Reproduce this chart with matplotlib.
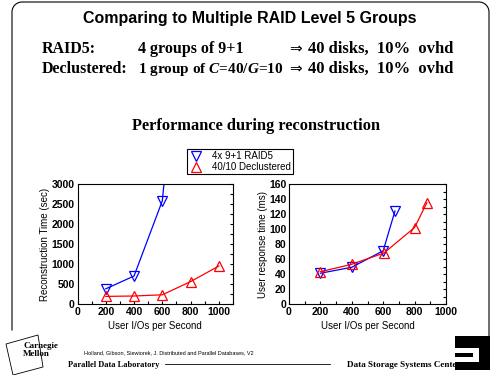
import numpy as np
import matplotlib
matplotlib.use('Agg')
import matplotlib.pyplot as plt
from matplotlib.lines import Line2D
from matplotlib.patches import Polygon, Rectangle

# Data
raid5_rate_recon = [200, 400, 600, 650]
raid5_recon_time = [380, 700, 2580, 4400]
decl_rate_recon = [200, 400, 600, 800, 1000]
decl_recon_time = [190, 200, 230, 560, 950]

raid5_rate_resp = [200, 400, 600, 675]
raid5_resp_time = [41, 49, 71, 124]
decl_rate_resp = [200, 400, 605, 800, 878]
decl_resp_time = [43, 53, 68, 102, 135]

legend_labels = ['4x 9+1 RAID5', '40/10 Declustered']

W, H = 500, 375
plt.rcParams['font.family'] = ['Liberation Sans', 'DejaVu Sans']
plt.rcParams['mathtext.fontset'] = 'custom'
plt.rcParams['mathtext.rm'] = 'Liberation Serif:bold'
plt.rcParams['mathtext.it'] = 'Liberation Serif:italic:bold'

serif = ['Liberation Serif', 'DejaVu Serif']


def px(x, y):
    return x / W, 1 - y / H


fig = plt.figure(figsize=(5, 3.75), dpi=100)

# slide frame (rounded top, open bottom)
r = 10
t = np.linspace(0, np.pi / 2, 12)
left_arc = np.c_[12 + r - r * np.cos(t), 2 + r - r * np.sin(t)]
right_arc = np.c_[489 - r + r * np.sin(t), 2 + r - r * np.cos(t)]
frame = np.vstack([[[12, 330]], left_arc, right_arc, [[489, 347]]])
fig.add_artist(Line2D(frame[:, 0] / W, 1 - frame[:, 1] / H, color='black',
                      lw=0.8, transform=fig.transFigure))

fig.text(*px(250, 19), 'Comparing to Multiple RAID Level 5 Groups',
         ha='center', va='center', fontsize=11.5, fontweight='bold')

for yb, a, b, bs in [(53, 'RAID5:', '4 groups of 9+1', 11.5),
                     (73, 'Declustered:', '1 group of $C$=40/$G$=10', 11)]:
    fig.text(*px(42, yb), a, family=serif, fontweight='bold', fontsize=11.5,
             va='baseline')
    fig.text(*px(138, yb), b, family=serif, fontweight='bold', fontsize=bs,
             va='baseline')
    fig.text(*px(289, yb), '\u21d2', family=['DejaVu Sans'], fontsize=11,
             va='baseline')
    fig.text(*px(308, yb), '40 disks,  10%  ovhd', family=serif,
             fontweight='bold', fontsize=12, va='baseline')

fig.text(*px(256, 130), 'Performance during reconstruction', family=serif,
         fontweight='bold', fontsize=11.8, ha='center', va='baseline')


def style(ax, xmax, ymax, yminor, ymajor):
    ax.set_xlim(0, xmax)
    ax.set_ylim(0, ymax)
    ax.set_xticks(np.arange(0, 1001, 200))
    ax.set_xticks(np.arange(100, xmax + 1, 100), minor=True)
    ax.set_yticks(np.arange(0, ymax + 1, ymajor))
    ax.set_yticks(np.arange(0, ymax + 1, yminor), minor=True)
    ax.tick_params(which='both', direction='in', length=2.5, width=0.8,
                   top=False, left=False, right=True, bottom=True,
                   labelsize=7.5, pad=2)
    for lab in ax.get_xticklabels() + ax.get_yticklabels():
        lab.set_fontweight('bold')
    for s in ax.spines.values():
        s.set_linewidth(0.8)
    ax.set_xlabel('User I/Os per Second', fontsize=7, labelpad=3)


mk = dict(mfc='none', ms=7.5, mew=0.9, lw=0.9)

ax1 = fig.add_axes([77.5 / W, 71 / H, 155.5 / W, 120 / H])
ax1.plot(raid5_rate_recon, raid5_recon_time, 'v-', color='#0000ff', **mk)
ax1.plot(decl_rate_recon, decl_recon_time, '^-', color='#ff0000', **mk)
style(ax1, 1100, 3000, 250, 500)
ax1.set_ylabel('Reconstruction Time (sec)', fontsize=7, labelpad=1)

ax2 = fig.add_axes([289 / W, 71 / H, 157 / W, 120 / H])
ax2.plot(raid5_rate_resp, raid5_resp_time, 'v-', color='#0000ff', **mk)
ax2.plot(decl_rate_resp, decl_resp_time, '^-', color='#ff0000', **mk)
style(ax2, 1000, 160, 10, 20)
ax2.set_ylabel('User response time (ms)', fontsize=7, labelpad=1)

handles = [Line2D([], [], marker='v', ls='none', color='#0000ff', mfc='none',
                  ms=7, mew=0.9),
           Line2D([], [], marker='^', ls='none', color='#ff0000', mfc='none',
                  ms=7, mew=0.9)]
leg = fig.legend(handles, legend_labels, loc='upper left',
                 bbox_to_anchor=px(187, 149), borderaxespad=0, fontsize=7,
                 fancybox=False, edgecolor='black', framealpha=1,
                 borderpad=0.2, labelspacing=0.1, handletextpad=1.0,
                 handlelength=1.4)
leg.get_frame().set_linewidth(0.8)

# footer
cm = np.array([[6, 344], [38, 335], [43, 367], [13, 375]])
fig.add_artist(Polygon(np.c_[cm[:, 0] / W, 1 - cm[:, 1] / H], closed=True,
                       fill=False, lw=0.6, transform=fig.transFigure))
fig.text(*px(23, 350), 'Carnegie\nMellon', family=serif, fontweight='bold',
         fontsize=6.5, va='center', linespacing=0.85)
fig.text(*px(84, 353), 'Holland, Gibson, Siewiorek, J. Distributed and Parallel Databases, V2',
         fontsize=4, va='center')
fig.text(*px(68, 365), 'Parallel Data Laboratory', family=serif,
         fontweight='bold', fontsize=6, va='center')
fig.add_artist(Line2D([165 / W, 330 / W], [1 - 364 / H] * 2, color='black',
                      lw=0.6, transform=fig.transFigure))
fig.text(*px(347, 365), 'Data Storage Systems Center', family=serif,
         fontweight='bold', fontsize=6.6, va='center')

for (x0, y0, w, h, c) in [(455, 336, 35, 34, 'black'),
                          (455, 348, 18, 5, 'white'),
                          (473, 348, 6, 14, 'white'),
                          (455, 357, 18, 5, 'white')]:
    fig.add_artist(Rectangle((x0 / W, 1 - (y0 + h) / H), w / W, h / H,
                             color=c, lw=0, transform=fig.transFigure))

fig.savefig('out.png', dpi=100)
